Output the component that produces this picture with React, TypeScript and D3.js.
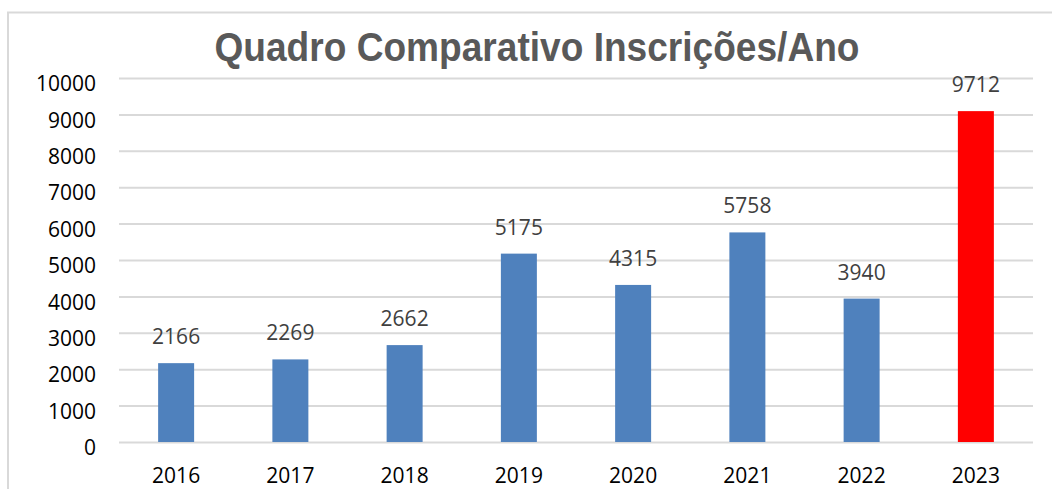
import * as d3 from "d3";
import { useEffect, useRef } from "react";

const years = ["2016", "2017", "2018", "2019", "2020", "2021", "2022", "2023"];
// bar heights as drawn in the picture
const values = [2166, 2269, 2662, 5175, 4315, 5758, 3940, 9090];
// data labels as printed above the bars
const labels = ["2166", "2269", "2662", "5175", "4315", "5758", "3940", "9712"];
const colors = ["#4f81bd", "#4f81bd", "#4f81bd", "#4f81bd", "#4f81bd", "#4f81bd", "#4f81bd", "#ff0000"];
const yTicks = [0, 1000, 2000, 3000, 4000, 5000, 6000, 7000, 8000, 9000, 10000];
const title = "Quadro Comparativo Inscrições/Ano";

const width = 1052,
  height = 489,
  marginTop = 78,
  marginRight = 19,
  marginBottom = 47,
  marginLeft = 119;

const font = "'Open Sans', 'Noto Sans', sans-serif";

export default function App() {
  const ref = useRef<SVGSVGElement | null>(null);

  useEffect(() => {
    if (!ref.current) return;
    const svg = d3.select(ref.current);
    svg.selectAll("*").remove();

    const x = d3
      .scaleBand()
      .domain(years)
      .range([marginLeft, width - marginRight])
      .paddingInner(0.685)
      .paddingOuter(0.3425);

    const y = d3
      .scaleLinear()
      .domain([0, 10000])
      .range([height - marginBottom, marginTop]);

    // chart frame
    svg
      .append("path")
      .attr("d", `M8,${height} L8,12.5 L${width},12.5`)
      .attr("fill", "none")
      .attr("stroke", "#d9d9d9")
      .attr("stroke-width", 2);

    // gridlines + y labels
    const yAxis = svg
      .append("g")
      .attr("transform", `translate(${marginLeft},0)`)
      .call(d3.axisLeft(y).tickValues(yTicks).tickSize(0).tickPadding(23).tickFormat(d3.format("d")))
      .call((g) => g.select(".domain").remove());
    yAxis
      .selectAll(".tick line")
      .clone()
      .attr("x2", width - marginLeft - marginRight)
      .attr("stroke", "#d9d9d9")
      .attr("stroke-width", 2);
    yAxis
      .selectAll(".tick text")
      .attr("font-family", font)
      .attr("font-size", 21)
      .attr("fill", "#000")
      .attr("dy", "0.6em");

    // x labels (the reference has them right at the bottom edge)
    svg
      .append("g")
      .attr("transform", `translate(0,${height - marginBottom})`)
      .call(d3.axisBottom(x).tickSize(0).tickPadding(26))
      .call((g) => g.select(".domain").remove())
      .call((g) =>
        g
          .selectAll(".tick text")
          .attr("font-family", font)
          .attr("font-size", 21)
          .attr("fill", "#000")
      );

    // bars
    svg
      .append("g")
      .selectAll("rect")
      .data(years)
      .join("rect")
      .attr("x", (d) => x(d)!)
      .attr("y", (_, i) => y(values[i]))
      .attr("width", x.bandwidth())
      .attr("height", (_, i) => y(0) - y(values[i]))
      .attr("fill", (_, i) => colors[i]);

    // data labels
    svg
      .append("g")
      .selectAll("text")
      .data(years)
      .join("text")
      .attr("x", (d) => x(d)! + x.bandwidth() / 2)
      .attr("y", (_, i) => y(values[i]) - 19)
      .attr("text-anchor", "middle")
      .attr("font-family", font)
      .attr("font-size", 21)
      .attr("fill", "#404040")
      .text((_, i) => labels[i]);

    // title
    svg
      .append("text")
      .attr("x", 537)
      .attr("y", 61)
      .attr("text-anchor", "middle")
      .attr("font-family", "'Liberation Sans', Arial, sans-serif")
      .attr("font-weight", "bold")
      .attr("font-size", 41)
      .attr("textLength", 645)
      .attr("lengthAdjust", "spacingAndGlyphs")
      .attr("fill", "#595959")
      .text(title);
  }, []);

  return (
    <svg
      ref={ref}
      width={width}
      height={height}
      viewBox={`0 0 ${width} ${height}`}
      style={{ position: "absolute", left: 0, top: 0, background: "#fff" }}
    />
  );
}
